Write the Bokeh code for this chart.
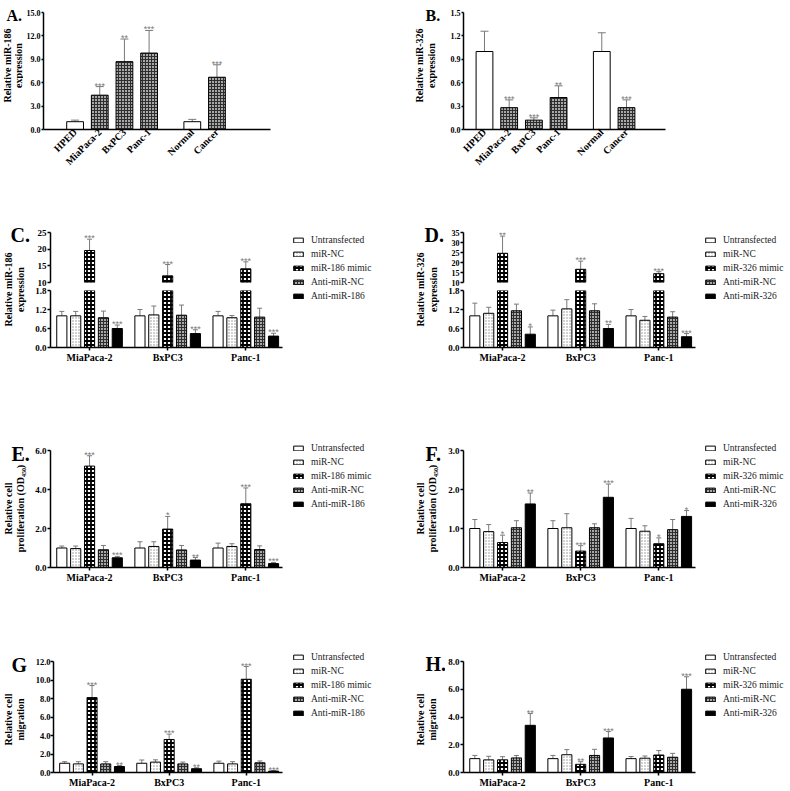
import math
from bokeh.plotting import figure
from bokeh.models import (ColumnDataSource, Range1d, FixedTicker, Label, LabelSet, Legend,
                          LegendItem, Whisker, TeeHead, NumeralTickFormatter)
from bokeh.layouts import row, column
from bokeh.embed import file_html
from bokeh.resources import INLINE
from bokeh.core.properties import value

SERIF = "Liberation Serif"
GREY = "#7a7a7a"

# ---------------- data ----------------
ab_categories = ["HPED", "MiaPaca-2", "BxPC3", "Panc-1", "Normal", "Cancer"]
ab_controls = ["HPED", "Normal"]
a_values = [1.0, 4.4, 8.7, 9.8, 1.0, 6.7]
a_errors = [0.2, 1.1, 2.9, 2.9, 0.3, 1.6]
a_stars = ["", "***", "**", "***", "", "***"]
b_values = [1.0, 0.28, 0.12, 0.41, 1.0, 0.28]
b_errors = [0.26, 0.10, 0.03, 0.15, 0.24, 0.10]
b_stars = ["", "***", "***", "**", "", "***"]

cell_lines = ["MiaPaca-2", "BxPC3", "Panc-1"]
series_186 = ["Untransfected", "miR-NC", "miR-186 mimic", "Anti-miR-NC", "Anti-miR-186"]
series_326 = ["Untransfected", "miR-NC", "miR-326 mimic", "Anti-miR-NC", "Anti-miR-326"]

# C: relative miR-186 expression (rows = series, cols = cell lines)
c_values = [[1.0, 1.0, 1.0], [1.0, 1.03, 0.94], [19.6, 12.0, 14.1], [0.94, 1.02, 0.96], [0.60, 0.44, 0.36]]
c_errors = [[0.14, 0.20, 0.14], [0.14, 0.28, 0.07], [3.4, 3.4, 2.1], [0.21, 0.32, 0.28], [0.11, 0.12, 0.09]]
c_stars = [["", "", ""], ["", "", ""], ["***", "***", "***"], ["", "", ""], ["***", "***", "***"]]

# D: relative miR-326 expression
d_values = [[1.0, 1.0, 1.0], [1.08, 1.22, 0.86], [24.6, 16.6, 14.4], [1.16, 1.16, 0.96], [0.42, 0.60, 0.34]]
d_errors = [[0.40, 0.18, 0.20], [0.19, 0.29, 0.12], [8.6, 4.1, 1.0], [0.21, 0.22, 0.17], [0.23, 0.13, 0.10]]
d_stars = [["", "", ""], ["", "", ""], ["**", "***", "***"], ["", "", ""], ["*", "**", "***"]]

# E: proliferation, miR-186
e_values = [[1.0, 1.0, 1.0], [0.97, 1.08, 1.08], [5.2, 1.97, 3.27], [0.91, 0.90, 0.92], [0.50, 0.38, 0.20]]
e_errors = [[0.10, 0.32, 0.25], [0.13, 0.24, 0.14], [0.53, 0.65, 0.81], [0.22, 0.23, 0.19], [0.07, 0.13, 0.06]]
e_stars = [["", "", ""], ["", "", ""], ["***", "*", "***"], ["", "", ""], ["***", "**", "***"]]

# F: proliferation, miR-326
f_values = [[1.0, 1.0, 1.0], [0.92, 1.02, 0.93], [0.64, 0.42, 0.61], [1.02, 1.02, 0.97], [1.63, 1.80, 1.31]]
f_errors = [[0.23, 0.20, 0.26], [0.18, 0.36, 0.14], [0.19, 0.14, 0.15], [0.18, 0.10, 0.26], [0.28, 0.34, 0.15]]
f_stars = [["", "", ""], ["", "", ""], ["*", "***", "*"], ["", "", ""], ["**", "***", "*"]]

# G: migration, miR-186
g_values = [[1.0, 1.0, 1.0], [0.93, 1.12, 0.93], [8.1, 3.57, 10.08], [0.93, 0.93, 1.05], [0.65, 0.41, 0.15]]
g_errors = [[0.17, 0.35, 0.23], [0.24, 0.25, 0.24], [1.3, 0.58, 1.37], [0.24, 0.20, 0.20], [0.10, 0.10, 0.06]]
g_stars = [["", "", ""], ["", "", ""], ["***", "***", "***"], ["", "", ""], ["**", "**", "***"]]

# H: migration, miR-326
h_values = [[1.0, 1.0, 1.0], [0.91, 1.28, 1.03], [0.91, 0.59, 1.26], [1.05, 1.23, 1.10], [3.4, 2.49, 6.0]]
h_errors = [[0.23, 0.23, 0.15], [0.26, 0.37, 0.16], [0.23, 0.19, 0.32], [0.18, 0.44, 0.28], [0.85, 0.46, 0.90]]
h_stars = [["", "", ""], ["", "", ""], ["", "**", ""], ["", "", ""], ["**", "***", "***"]]

# ---------------- styles ----------------
STYLES = [
    dict(fill_color="white"),
    dict(fill_color="white", hatch_pattern="dot", hatch_color="#8c8c8c", hatch_scale=3, hatch_weight=0.7),
    dict(fill_color="white", hatch_pattern="cross", hatch_color="black", hatch_scale=4, hatch_weight=1.8),
    dict(fill_color="#a8a8a8", hatch_pattern="cross", hatch_color="#2e2e2e", hatch_scale=3, hatch_weight=1.0),
    dict(fill_color="black"),
]
AB_GREY = STYLES[3]
OFFSET = 0.1775
BAR_W = 0.13
AB_GAP = 0.75
X_GROUP = (-0.5, 2.47)


def new_fig(w, h, xr, yr, left, right, top, bottom, xaxis=True):
    p = figure(width=w, height=h, x_range=Range1d(*xr), y_range=Range1d(*yr),
               output_backend="svg", toolbar_location=None, tools="",
               min_border_left=left, min_border_right=right,
               min_border_top=top, min_border_bottom=bottom,
               x_axis_location="below" if xaxis else None, frame_align=False)
    p.outline_line_color = None
    p.grid.visible = False
    p.background_fill_color = "white"
    p.border_fill_color = "white"
    return p


def blank_fig(w, h, left=0, top=0):
    p = figure(width=w, height=h, x_range=Range1d(0, 1), y_range=Range1d(0, 1),
               output_backend="svg", toolbar_location=None, tools="",
               min_border_left=left, min_border_top=top, min_border_right=0, min_border_bottom=0,
               x_axis_location=None, y_axis_location=None, frame_align=False)
    p.outline_line_color = None
    p.grid.visible = False
    return p


def style_axis(ax, size="9px", tick_out=3, standoff=1):
    ax.axis_line_color = "black"
    ax.axis_line_width = 1.5
    ax.major_tick_line_color = "black"
    ax.major_tick_line_width = 1.5
    ax.major_tick_out = tick_out
    ax.major_tick_in = 0
    ax.minor_tick_out = 0
    ax.minor_tick_in = 0
    ax.major_label_text_font = SERIF
    ax.major_label_text_font_style = "bold"
    ax.major_label_text_font_size = size
    ax.major_label_text_color = "black"
    ax.major_label_standoff = standoff


def set_y(p, ticks, fmt, size="9px", tick_out=3, standoff=1):
    ax = p.yaxis[0]
    ax.ticker = FixedTicker(ticks=ticks)
    ax.formatter = NumeralTickFormatter(format=fmt)
    style_axis(ax, size, tick_out, standoff)


def set_x_groups(p):
    ax = p.xaxis[0]
    ax.ticker = FixedTicker(ticks=list(range(len(cell_lines))))
    ax.major_label_overrides = {i: name for i, name in enumerate(cell_lines)}
    style_axis(ax, "10px")


def add_label(p, text, x, y, size, angle=0.0, align="left", baseline="alphabetic"):
    p.add_layout(Label(x=x, y=y, x_units="screen", y_units="screen", text=text,
                       text_font=SERIF, text_font_size=size, text_font_style="bold",
                       text_color="black", angle=angle, text_align=align,
                       text_baseline=baseline))


def title_fig(w, h, letter, lx, ly, lsize, lines, x1, x2, yc):
    p = blank_fig(w, h)
    add_label(p, letter, lx, ly, lsize)
    add_label(p, lines[0], x1, yc, "10px", math.pi / 2, "center", "middle")
    add_label(p, lines[1], x2, yc, "10px", math.pi / 2, "center", "middle")
    return p


def add_err_stars(p, xs, vals, errs, stars, cap):
    src = ColumnDataSource(dict(x=xs, base=vals, up=[v + e for v, e in zip(vals, errs)], st=stars))
    p.add_layout(Whisker(source=src, base="x", lower="base", upper="up", lower_head=None,
                         upper_head=TeeHead(size=cap, line_color=GREY, line_width=1),
                         line_color=GREY, line_width=1))
    p.add_layout(LabelSet(x="x", y="up", text="st", source=src, text_align="center",
                          text_baseline="alphabetic", y_offset=-2,
                          text_font=value("Liberation Sans"), text_font_size=value("9px"),
                          text_color=GREY))


def draw_groups(p, vals, errs, stars, lo=None, hi=None):
    for s in range(len(vals)):
        xs_all = [g + (s - 2) * OFFSET for g in range(len(cell_lines))]
        keep = [i for i in range(len(xs_all))
                if (lo is None or vals[s][i] >= lo)]
        if keep:
            src = ColumnDataSource(dict(x=[xs_all[i] for i in keep], top=[vals[s][i] for i in keep]))
            p.vbar(x="x", top="top", bottom=0, width=BAR_W, source=src,
                   line_color="black", line_width=1, **STYLES[s])
        keep_e = [i for i in keep if hi is None or vals[s][i] <= hi]
        if keep_e:
            add_err_stars(p, [xs_all[i] for i in keep_e], [vals[s][i] for i in keep_e],
                          [errs[s][i] for i in keep_e], [stars[s][i] for i in keep_e], 5)


def legend_fig(w, h, names, lx, ly):
    p = blank_fig(w, h, left=lx, top=ly)
    items = []
    for s, name in enumerate(names):
        # legend proxy: a zero-height bar placed outside the visible range
        r = p.vbar(x=[-1.0], top=[0.0], width=0.5, line_color="black", line_width=1, **STYLES[s])
        items.append(LegendItem(label=name, renderers=[r]))
    leg = Legend(items=items, location="top_left", padding=0, margin=0, spacing=3,
                 glyph_width=12, glyph_height=6, label_height=11, label_standoff=7,
                 label_text_font=SERIF, label_text_font_size="9.5px",
                 label_text_color="#222222", border_line_color=None,
                 background_fill_alpha=0)
    p.add_layout(leg)
    return p


def ab_fig(vals, errs, stars, w, xr, yr, yticks, left, right):
    p = new_fig(w, 190, xr, yr, left, right, 12, 61)
    pos = [i + (AB_GAP if i >= 4 else 0) for i in range(len(ab_categories))]
    ctrl = [i for i, c in enumerate(ab_categories) if c in ab_controls]
    test = [i for i, c in enumerate(ab_categories) if c not in ab_controls]
    p.vbar(x=[pos[i] for i in ctrl], top=[vals[i] for i in ctrl], bottom=0, width=0.68,
           line_color="black", line_width=1, fill_color="white")
    p.vbar(x=[pos[i] for i in test], top=[vals[i] for i in test], bottom=0, width=0.68,
           line_color="black", line_width=1, **AB_GREY)
    add_err_stars(p, pos, vals, errs, stars, 8)
    set_y(p, yticks, "0.0", "8px", tick_out=2)
    ax = p.xaxis[0]
    ax.ticker = FixedTicker(ticks=pos)
    ax.major_label_overrides = {pos[i]: c for i, c in enumerate(ab_categories)}
    style_axis(ax, "10px", tick_out=0)
    ax.major_label_orientation = math.pi / 4
    return p


# ---------------- row 1 ----------------
aT = title_fig(23, 190, "A.", 6, 175, "16px", ["Relative miR-186", "expression"], 7, 18, 125)
pA = ab_fig(a_values, a_errors, a_stars, 372, (-1.28, 7.92), (0, 15), [0, 3, 6, 9, 12, 15], 17, 125)
bT = title_fig(52, 190, "B.", 30, 175, "16px", ["Relative miR-326", "expression"], 24, 36, 125)
pB = ab_fig(b_values, b_errors, b_stars, 343, (-0.85, 7.33), (0, 1.5),
            [0, 0.3, 0.6, 0.9, 1.2, 1.5], 16, 125)

# ---------------- row 2 (broken axes) ----------------
def broken_panel(vals, errs, stars, w, left, right, up_range, up_ticks, up_size):
    up = new_fig(w, 96, X_GROUP, up_range, left, right, 42, 4, xaxis=False)
    draw_groups(up, vals, errs, stars, lo=up_range[0])
    set_y(up, up_ticks, "0", up_size)
    low = new_fig(w, 124, X_GROUP, (0, 1.8), left, right, 4, 63)
    draw_groups(low, vals, errs, stars, hi=1.8)
    set_y(low, [0, 0.6, 1.2, 1.8], "0.0")
    set_x_groups(low)
    return column(up, low)

cT = title_fig(32, 220, "C.", 10, 176, "20px", ["Relative miR-186", "expression"], 8, 20, 121)
cP = broken_panel(c_values, c_errors, c_stars, 253, 18, 3, (10, 25), [10, 15, 20, 25], "9px")
cL = legend_fig(110, 220, series_186, 7, 44)

dT = title_fig(50, 220, "D.", 29, 176, "20px", ["Relative miR-326", "expression"], 25, 38, 121)
dP = broken_panel(d_values, d_errors, d_stars, 255, 18, 5, (10, 35), [10, 15, 20, 25, 30, 35], "8px")
dL = legend_fig(90, 220, series_326, 4, 44)

# ---------------- rows 3 & 4 ----------------
def group_fig(vals, errs, stars, w, h, yr, yticks, left, right, top, bottom, size="9px", standoff=1):
    p = new_fig(w, h, X_GROUP, yr, left, right, top, bottom)
    draw_groups(p, vals, errs, stars)
    set_y(p, yticks, "0.0", size, 3, standoff)
    set_x_groups(p)
    return p

prolif = ["Relative cell", "proliferation (OD\u2084\u2085\u2080)"]
migr = ["Relative cell", "migration"]

eT = title_fig(32, 210, "E.", 11, 167, "20px", prolif, 8, 20, 112)
pE = group_fig(e_values, e_errors, e_stars, 253, 210, (0, 6), [0, 2, 4, 6], 18, 3, 40, 53)
eL = legend_fig(110, 210, series_186, 7, 32)
fT = title_fig(50, 210, "F.", 30, 167, "20px", prolif, 25, 37, 112)
pF = group_fig(f_values, f_errors, f_stars, 255, 210, (0, 3), [0, 1, 2, 3], 18, 5, 40, 53)
fL = legend_fig(90, 210, series_326, 4, 32)

gT = title_fig(32, 170, "G", 11, 126, "20px", migr, 8, 20, 71)
pG = group_fig(g_values, g_errors, g_stars, 253, 170, (0, 12), [0, 2, 4, 6, 8, 10, 12], 18, 3, 41, 16,
               size="8.5px", standoff=0)
gL = legend_fig(110, 170, series_186, 7, 31)
hT = title_fig(50, 170, "H.", 30, 127, "20px", migr, 25, 37, 71)
pH = group_fig(h_values, h_errors, h_stars, 255, 170, (0, 8), [0, 2, 4, 6, 8], 18, 5, 41, 16)
hL = legend_fig(90, 170, series_326, 4, 31)

layout = column(
    row(aT, pA, bT, pB),
    row(cT, cP, cL, dT, dP, dL),
    row(eT, pE, eL, fT, pF, fL),
    row(gT, pG, gL, hT, pH, hL),
)

with open("out.html", "w") as f:
    f.write(file_html(layout, INLINE))
